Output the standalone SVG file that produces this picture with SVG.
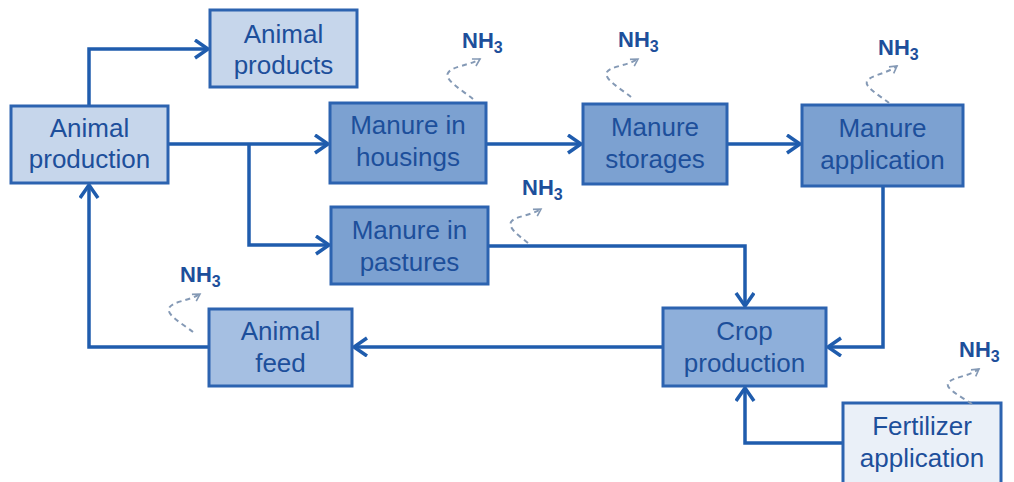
<svg xmlns="http://www.w3.org/2000/svg" width="1014" height="482" viewBox="0 0 1014 482">
<style>
.box{stroke:#2c63b0;stroke-width:3}
.light{fill:#c6d6eb}
.dark{fill:#7ca1d1}
.mid{fill:#a5bfe2}
.crop{fill:#8eafda}
.pale{fill:#eaf0f8}
.lbl{font-family:"Liberation Sans",Arial,sans-serif;font-size:26px;fill:#1d4f9b;text-anchor:middle}
.nh{font-family:"Liberation Sans",Arial,sans-serif;font-size:22px;font-weight:bold;fill:#1d4f9b}
.conn{fill:none;stroke:#1f5cad;stroke-width:3.5;stroke-linejoin:miter}
.em{fill:none;stroke:#8499b5;stroke-width:2;stroke-dasharray:5 4}
</style>
<defs>
<marker id="arr" markerUnits="userSpaceOnUse" markerWidth="16" markerHeight="22" refX="14" refY="10" orient="auto">
<path d="M1,1 L14,10 L1,19" fill="none" stroke="#1f5cad" stroke-width="3.5"/>
</marker>
<marker id="sarr" markerUnits="userSpaceOnUse" markerWidth="10" markerHeight="12" refX="8" refY="5" orient="auto">
<path d="M1,1 L8,5 L1,9" fill="none" stroke="#8499b5" stroke-width="1.6"/>
</marker>
</defs>

<g id="connectors">
<path class="conn" d="M89,106 V49 H208" marker-end="url(#arr)"/>
<path class="conn" d="M168,144 H328" marker-end="url(#arr)"/>
<path class="conn" d="M249,144 V245 H329" marker-end="url(#arr)"/>
<path class="conn" d="M486,144 H581" marker-end="url(#arr)"/>
<path class="conn" d="M727,144 H800" marker-end="url(#arr)"/>
<path class="conn" d="M883,186 V347 H828" marker-end="url(#arr)"/>
<path class="conn" d="M488,246 H745 V306" marker-end="url(#arr)"/>
<path class="conn" d="M663,347 H354" marker-end="url(#arr)"/>
<path class="conn" d="M209,347 H89 V185" marker-end="url(#arr)"/>
<path class="conn" d="M843,443 H745 V388" marker-end="url(#arr)"/>
</g>

<g id="animal-products">
<rect class="box light" x="210" y="10" width="147" height="77"/>
<text class="lbl" x="283.5" y="43">Animal</text>
<text class="lbl" x="283.5" y="74">products</text>
</g>
<g id="animal-production">
<rect class="box light" x="11" y="106" width="157" height="77"/>
<text class="lbl" x="89.5" y="137">Animal</text>
<text class="lbl" x="89.5" y="168">production</text>
</g>
<g id="manure-housings">
<rect class="box dark" x="330" y="103" width="156" height="80"/>
<text class="lbl" x="408" y="134">Manure in</text>
<text class="lbl" x="408" y="166">housings</text>
</g>
<g id="manure-pastures">
<rect class="box dark" x="331" y="207" width="157" height="77"/>
<text class="lbl" x="409.5" y="239">Manure in</text>
<text class="lbl" x="409.5" y="271">pastures</text>
</g>
<g id="manure-storages">
<rect class="box dark" x="583" y="104" width="144" height="80"/>
<text class="lbl" x="655" y="136">Manure</text>
<text class="lbl" x="655" y="168">storages</text>
</g>
<g id="manure-application">
<rect class="box dark" x="802" y="105" width="161" height="81"/>
<text class="lbl" x="882.5" y="137">Manure</text>
<text class="lbl" x="882.5" y="169">application</text>
</g>
<g id="animal-feed">
<rect class="box mid" x="209" y="309" width="143" height="77"/>
<text class="lbl" x="280.5" y="340">Animal</text>
<text class="lbl" x="280.5" y="372">feed</text>
</g>
<g id="crop-production">
<rect class="box crop" x="663" y="308" width="163" height="78"/>
<text class="lbl" x="744.5" y="340">Crop</text>
<text class="lbl" x="744.5" y="372">production</text>
</g>
<g id="fertilizer-application">
<rect class="box pale" x="843" y="403" width="158" height="90"/>
<text class="lbl" x="922" y="435">Fertilizer</text>
<text class="lbl" x="922" y="467">application</text>
</g>

<g id="emissions">
<path class="em" d="M473,99 C462,90 444,80 448,73 C452,66 468,66 480,59" marker-end="url(#sarr)"/>
<text class="nh" x="462" y="48">NH<tspan font-size="16" dy="5">3</tspan></text>
<path class="em" d="M631,97 C620,88 603,79 607,72 C611,66 627,66 638,59" marker-end="url(#sarr)"/>
<text class="nh" x="618" y="47">NH<tspan font-size="16" dy="5">3</tspan></text>
<path class="em" d="M889,103 C879,95 864,87 867,81 C871,75 886,74 897,66" marker-end="url(#sarr)"/>
<text class="nh" x="878" y="55">NH<tspan font-size="16" dy="5">3</tspan></text>
<path class="em" d="M528,243 C518,235 508,228 511,222 C515,216 530,216 541,209" marker-end="url(#sarr)"/>
<text class="nh" x="522" y="195">NH<tspan font-size="16" dy="5">3</tspan></text>
<path class="em" d="M193,332 C183,324 166,315 169,308 C173,301 189,301 200,294" marker-end="url(#sarr)"/>
<text class="nh" x="180" y="282">NH<tspan font-size="16" dy="5">3</tspan></text>
<path class="em" d="M972,404 C962,397 945,389 948,383 C952,377 968,377 979,369" marker-end="url(#sarr)"/>
<text class="nh" x="959" y="357">NH<tspan font-size="16" dy="5">3</tspan></text>
</g>
</svg>
